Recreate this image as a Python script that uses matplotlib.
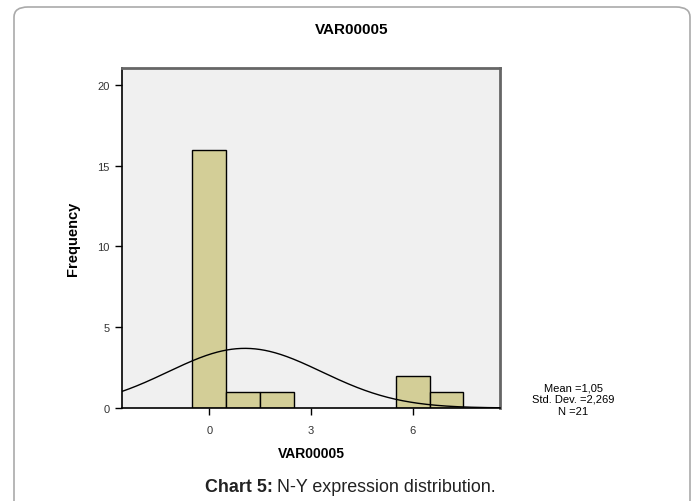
import numpy as np
import matplotlib
matplotlib.use("Agg")
import matplotlib.pyplot as plt
from matplotlib.patches import FancyBboxPatch

plt.rcParams['font.family'] = ['Liberation Sans', 'DejaVu Sans']

# histogram data (bin centres, width 1)
bin_centers = [0, 1, 2, 6, 7]
counts = [16, 1, 1, 2, 1]
mean_val = 1.05
std_dev = 2.269
n_total = 21
x_ticks = [0, 3, 6]
y_ticks = [0, 5, 10, 15, 20]

fig = plt.figure(figsize=(6.99, 5.02), dpi=100)

# rounded frame around the figure
frame = FancyBboxPatch((14 / 699, -0.05), (690 - 14) / 699, 1 - 8 / 502 + 0.05,
                       boxstyle="round,pad=0,rounding_size=0.02",
                       transform=fig.transFigure, facecolor='white',
                       edgecolor='#aaaaaa', linewidth=1.2, zorder=-10)
fig.patches.append(frame)

ax = fig.add_axes([122 / 699, 1 - 409 / 502, (500 - 122) / 699, (409 - 69) / 502])
ax.set_facecolor('#f0f0f0')

ax.bar(bin_centers, counts, width=1.0, color='#d3ce97', edgecolor='black',
       linewidth=1.0, zorder=2)

# fitted normal curve
xs = np.linspace(-2.6, 8.6, 400)
ys = n_total / (std_dev * np.sqrt(2 * np.pi)) * np.exp(-0.5 * ((xs - mean_val) / std_dev) ** 2)
ax.plot(xs, ys, color='black', linewidth=1.0, zorder=3)

ax.set_xlim(-2.58, 8.58)
ax.set_ylim(0, 21.05)
ax.set_xticks(x_ticks)
ax.set_yticks(y_ticks)
ax.tick_params(labelsize=8, labelcolor='#333333', color='black', length=5, width=1)
ax.tick_params(axis='x', pad=7)
ax.tick_params(axis='y', pad=4)

for side in ['left', 'bottom']:
    ax.spines[side].set_color('black')
    ax.spines[side].set_linewidth(1.2)
for side in ['top', 'right']:
    ax.spines[side].set_color('#666666')
    ax.spines[side].set_linewidth(2)

ax.set_xlabel('VAR00005', fontsize=10, fontweight='bold', labelpad=8)
ax.set_ylabel('Frequency', fontsize=10.5, fontweight='bold', labelpad=12)

fig.text(352 / 699, 1 - 30 / 502, 'VAR00005', ha='center', va='center',
         fontsize=11, fontweight='bold')

fig.text(573 / 699, 1 - 400 / 502,
         'Mean =1,05\nStd. Dev. =2,269\nN =21',
         ha='center', va='center', fontsize=8, linespacing=1.2)

# caption: bold label followed by normal text
cap_y = 1 - 488 / 502
t1 = fig.text(205 / 699, cap_y, 'Chart 5:', ha='left', va='center',
              fontsize=12.9, fontweight='bold', color='#222222')
fig.canvas.draw()
bb = t1.get_window_extent()
fig.text((bb.x1 + 4) / 699, cap_y, 'N-Y expression distribution.', ha='left',
         va='center', fontsize=12.9, color='#222222')

fig.savefig('out.png', dpi=100)
